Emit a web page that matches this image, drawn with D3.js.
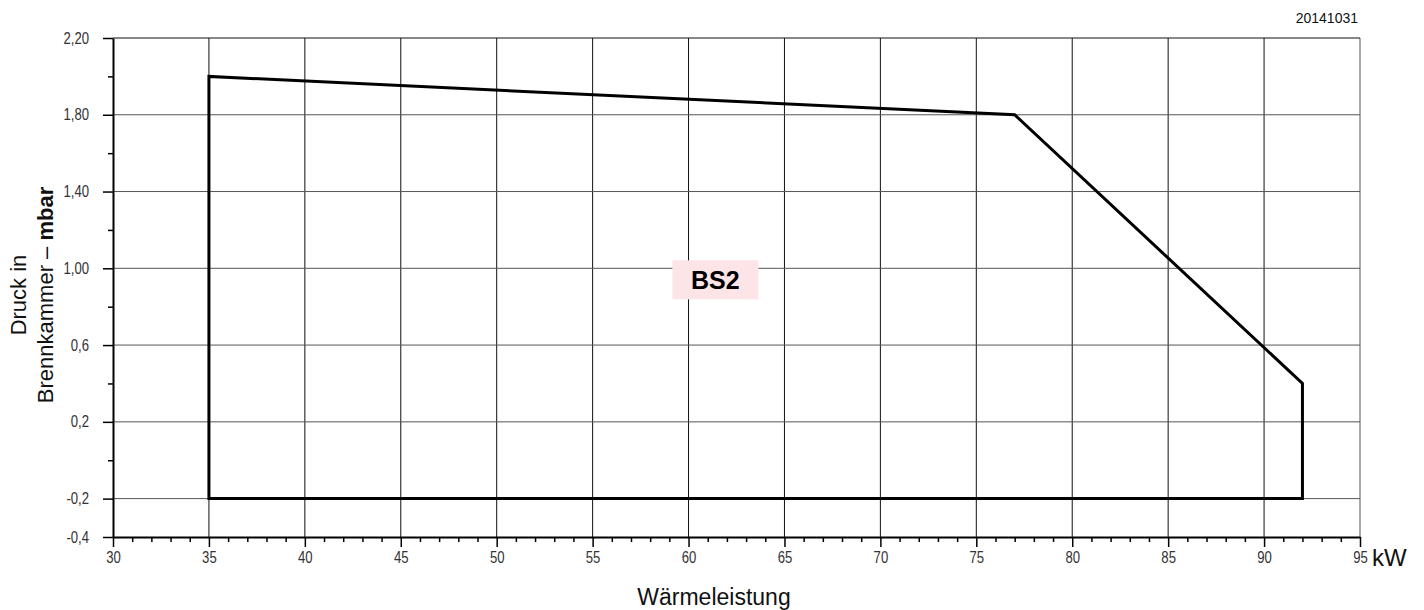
<!DOCTYPE html>
<html>
<head>
<meta charset="utf-8">
<script src="https://cdn.jsdelivr.net/npm/d3@7"></script>
<style>
  html, body { margin: 0; padding: 0; background: #fff; }
  svg { display: block; }
  .tick text { font-family: "Liberation Sans", Arial, sans-serif; }
</style>
</head>
<body>
<svg id="chart" width="1424" height="610"></svg>
<script>
// ---- data ----
const envelopeKW = [35, 35, 77, 92, 92];
const envelopeMbar = [-0.2, 2.0, 1.8, 0.4, -0.2];
const xMajorTicks = [30, 35, 40, 45, 50, 55, 60, 65, 70, 75, 80, 85, 90, 95];
const xTickLabels = ["30", "35", "40", "45", "50", "55", "60", "65", "70", "75", "80", "85", "90", "95"];
const yMajorTicks = [-0.4, -0.2, 0.2, 0.6, 1.0, 1.4, 1.8, 2.2];
const yTickLabels = ["-0,4", "-0,2", "0,2", "0,6", "1,00", "1,40", "1,80", "2,20"];
const yMinorTicks = [0.0, 0.4, 0.8, 1.2, 1.6, 2.0];
const areaLabel = "BS2";
const dateLabel = "20141031";
const xTitle = "Wärmeleistung";
const xUnit = "kW";

// ---- layout ----
const svg = d3.select("#chart");
const mLeft = 113, mRight = 1360, mTop = 38, mBottom = 537;
const x = d3.scaleLinear().domain([30, 95]).range([mLeft, mRight]);
const y = d3.scaleLinear().domain([-0.4, 2.2]).range([mBottom, mTop]);
const xMinorTicks = d3.range(30, 96, 1).filter(v => v % 5 !== 0);
const narrow = 0.82;

// grid
const g = svg.append("g");
g.selectAll(".vgrid").data(xMajorTicks.filter(v => v > 30)).enter().append("line")
  .attr("x1", d => x(d)).attr("x2", d => x(d))
  .attr("y1", y(2.2)).attr("y2", y(-0.4))
  .attr("stroke", d => d === 95 ? "#555" : "#111").attr("stroke-width", 1);
g.selectAll(".hgrid").data(yMajorTicks.filter(v => v > -0.4)).enter().append("line")
  .attr("x1", x(30)).attr("x2", x(95))
  .attr("y1", d => y(d)).attr("y2", d => y(d))
  .attr("stroke", d => d === 2.2 ? "#111" : "#555").attr("stroke-width", 1);

// envelope polygon
const pts = envelopeKW.map((v, i) => [x(v), y(envelopeMbar[i])]);
svg.append("path")
  .attr("d", d3.line()(pts) + "Z")
  .attr("fill", "none").attr("stroke", "#000").attr("stroke-width", 3)
  .attr("stroke-linejoin", "miter");

// axes
const yAxis = d3.axisLeft(y).tickValues(yMajorTicks)
  .tickFormat((d, i) => yTickLabels[i]).tickSize(10).tickSizeOuter(0).tickPadding(14);
const ya = svg.append("g").attr("transform", `translate(${mLeft},0)`).call(yAxis);
ya.select(".domain").attr("stroke", "#000").attr("stroke-width", 2);
ya.selectAll(".tick line").attr("stroke", "#000").attr("stroke-width", 1.5);
ya.selectAll(".tick text").attr("font-size", 16).attr("fill", "#333")
  .attr("x", -24 / narrow).attr("transform", `scale(${narrow},1)`);

const yMinor = d3.axisLeft(y).tickValues(yMinorTicks).tickFormat("").tickSize(5).tickSizeOuter(0);
const ym = svg.append("g").attr("transform", `translate(${mLeft},0)`).call(yMinor);
ym.select(".domain").remove();
ym.selectAll(".tick line").attr("stroke", "#000").attr("stroke-width", 1.5);

const xAxis = d3.axisBottom(x).tickValues(xMajorTicks)
  .tickFormat((d, i) => xTickLabels[i]).tickSize(10).tickSizeOuter(0).tickPadding(5);
const xa = svg.append("g").attr("transform", `translate(0,${mBottom})`).call(xAxis);
xa.select(".domain").attr("stroke", "#000").attr("stroke-width", 2);
xa.selectAll(".tick line").attr("stroke", "#000").attr("stroke-width", 1.5);
xa.selectAll(".tick text").attr("font-size", 16).attr("fill", "#333")
  .attr("transform", `scale(${narrow},1)`);

const xMinor = d3.axisBottom(x).tickValues(xMinorTicks).tickFormat("").tickSize(5).tickSizeOuter(0);
const xm = svg.append("g").attr("transform", `translate(0,${mBottom})`).call(xMinor);
xm.select(".domain").remove();
xm.selectAll(".tick line").attr("stroke", "#000").attr("stroke-width", 1.5);

// BS2 label
const lx = x(61.4), ly = y(0.94);
svg.append("rect").attr("x", lx - 43).attr("y", ly - 19.5).attr("width", 86).attr("height", 39)
  .attr("fill", "#fde4e6");
svg.append("text").attr("x", lx).attr("y", ly + 9)
  .attr("text-anchor", "middle").attr("font-family", "Liberation Sans, Arial, sans-serif")
  .attr("font-weight", "bold").attr("font-size", 25).attr("fill", "#000").text(areaLabel);

// date label
svg.append("text").attr("x", 1358).attr("y", 23).attr("text-anchor", "end")
  .attr("font-family", "Liberation Sans, Arial, sans-serif").attr("font-size", 14).attr("fill", "#111")
  .text(dateLabel);

// unit
svg.append("text").attr("x", 1372).attr("y", 566)
  .attr("font-family", "Liberation Sans, Arial, sans-serif").attr("font-size", 24).attr("fill", "#111")
  .text(xUnit);

// x title
svg.append("text").attr("x", 714).attr("y", 605).attr("text-anchor", "middle")
  .attr("font-family", "Liberation Sans, Arial, sans-serif").attr("font-size", 23).attr("fill", "#111")
  .text(xTitle);

// y title
const yt = svg.append("text").attr("transform", "translate(0,295) rotate(-90)")
  .attr("text-anchor", "middle")
  .attr("font-family", "Liberation Sans, Arial, sans-serif").attr("font-size", 22).attr("fill", "#111");
yt.append("tspan").attr("x", 0).attr("y", 26).text("Druck in");
const l2 = yt.append("tspan").attr("x", 0).attr("y", 53);
l2.append("tspan").text("Brennkammer – ");
l2.append("tspan").attr("font-weight", "bold").text("mbar");
</script>
</body>
</html>
